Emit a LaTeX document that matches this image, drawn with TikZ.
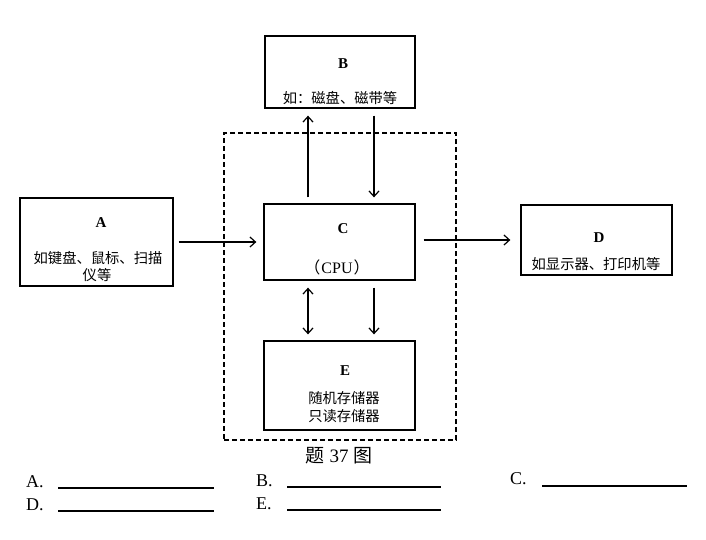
\documentclass[tikz,border=0pt]{standalone}
\usepackage{fontspec}
\setmainfont{Liberation Serif}
\newfontfamily\cjk{Noto Sans CJK SC}
\usetikzlibrary{arrows.meta,calc}
\begin{document}
\begin{tikzpicture}[x=1pt,y=-1pt,
  box/.style={draw,line width=1.3pt,inner sep=0pt},
  frame/.style={draw,line width=1.2pt,dash pattern=on 5pt off 3pt,inner sep=0pt},
  tip/.tip={Straight Barb[length=5.5pt,width=10pt,line width=1.2pt]},
  arr/.style={line width=1.3pt,-tip},
  darr/.style={line width=1.3pt,tip-tip},
  lett/.style={font=\bfseries\fontsize{15}{17}\selectfont,inner sep=0pt},
  zh/.style={font=\cjk\fontsize{14.3}{17}\selectfont,inner sep=0pt},
  ans/.style={font=\fontsize{18}{20}\selectfont,inner sep=0pt,anchor=west},
  blank/.style={line width=1.3pt}]
\useasboundingbox (0,0) rectangle (706,539);
% frame
\node[frame,minimum width=232pt,minimum height=307pt] (F) at (340,286.5) {};
% boxes
\node[box,minimum width=150pt,minimum height=72pt] (B) at (340,72) {};
\node[box,minimum width=151pt,minimum height=76pt] (C) at (339.5,242) {};
\node[box,minimum width=153pt,minimum height=88pt] (A) at (96.5,242) {};
\node[box,minimum width=151pt,minimum height=70pt] (D) at (596.5,240) {};
\node[box,minimum width=151pt,minimum height=89pt] (E) at (339.5,385.5) {};
% texts
\node[lett] (Bl) at (343,64) {B};
\node[zh] (Bt) at (340,98) {如：磁盘、磁带等};
\node[lett] (Cl) at (343,229) {C};
\node[font=\fontsize{16}{18}\selectfont,inner sep=0pt] (Ct) at (337,267) {{\cjk （}\kern1pt CPU\kern1pt{\cjk ）}};
\node[lett] (Al) at (101,223) {A};
\node[zh] (At1) at (98,258) {如键盘、鼠标、扫描};
\node[zh] (At2) at (97,275) {仪等};
\node[lett] (Dl) at (599,238) {D};
\node[zh] (Dt) at (596,264) {如显示器、打印机等};
\node[lett] (El) at (345,371) {E};
\node[zh] (Et1) at (344,398) {随机存储器};
\node[zh] (Et2) at (344,416) {只读存储器};
\node[font=\fontsize{19}{21}\selectfont,inner sep=0pt] (cap) at (339,456) {{\cjk 题} 37 {\cjk 图}};
% connectors
\draw[arr] ($(C.north)+(-31.5,-6)$) -- ($(B.south)+(-32,7)$);
\draw[arr] ($(B.south)+(34,7)$) -- ($(C.north)+(34.5,-6)$);
\draw[arr] ($(A.east)+(5,0)$) -- ($(C.west)+(-7,0)$);
\draw[arr] ($(C.east)+(8,-2)$) -- ($(D.west)+(-10,0)$);
\draw[darr] ($(C.south)+(-31.5,7)$) -- ($(E.north)+(-31.5,-6)$);
\draw[arr] ($(C.south)+(34.5,7)$) -- ($(E.north)+(34.5,-6)$);
% answers
\node[ans] (la) at (26,482) {A.};
\node[ans] (lb) at (256,481) {B.};
\node[ans] (lc) at (510,479) {C.};
\node[ans] (ld) at (26,505) {D.};
\node[ans] (le) at (256,504) {E.};
\draw[blank] (58,488) -- (214,488);
\draw[blank] (287,487) -- (441,487);
\draw[blank] (542,486) -- (687,486);
\draw[blank] (58,511) -- (214,511);
\draw[blank] (287,510) -- (441,510);
\end{tikzpicture}
\end{document}
